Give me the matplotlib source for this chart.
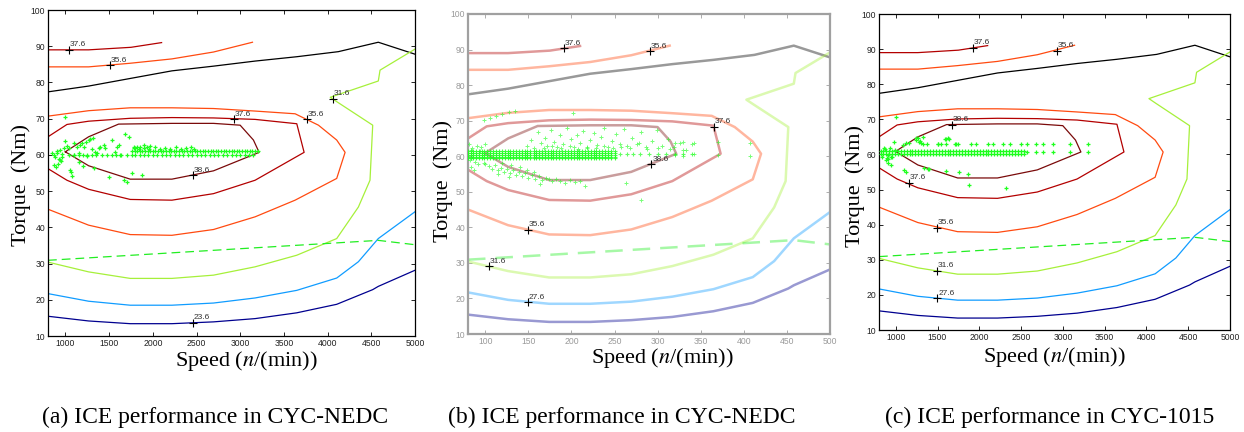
import matplotlib
matplotlib.use("Agg")
import matplotlib.pyplot as plt

# efficiency contour polylines (speed r/min, torque Nm)
top376_x = [800, 1265, 1750, 2100]
top376_y = [89.0, 89.0, 89.7, 91.0]
top356_x = [800, 1265, 1741, 2218, 2694, 3140]
top356_y = [84.3, 84.3, 85.3, 86.5, 88.4, 91.1]
maxtq_x = [800, 1265, 1741, 2218, 2694, 3170, 3647, 4123, 4580, 5000]
maxtq_y = [77.4, 79.0, 81.1, 83.2, 84.5, 85.9, 87.1, 88.5, 91.1, 87.8]
c316_x = [5000, 4600, 4580, 4030, 4104, 4516, 4485, 4352, 4104, 3647, 3170, 2694, 2218, 1741, 1265, 800]
c316_y = [89.2, 83.4, 80.4, 75.9, 74.7, 68.2, 53.0, 45.6, 36.9, 32.3, 29.1, 26.8, 25.9, 25.9, 27.7, 30.4]
c276_x = [800, 1265, 1741, 2218, 2694, 3170, 3647, 4104, 4352, 4580, 5000]
c276_y = [21.7, 19.6, 18.5, 18.5, 19.1, 20.5, 22.6, 26.0, 30.5, 36.9, 44.3]
c236_x = [800, 1265, 1741, 2218, 2694, 3170, 3647, 4104, 4516, 4580, 5000]
c236_y = [15.45, 14.15, 13.4, 13.4, 13.9, 14.8, 16.4, 18.75, 22.8, 23.7, 28.15]
opt_x = [800, 4580, 5000]
opt_y = [30.9, 36.4, 35.2]
loop356_x = [800, 1265, 1741, 2218, 2694, 3170, 3628, 3895, 4104, 4200, 4104, 3628, 3170, 2694, 2218, 1741, 1265, 800]
loop356_y = [70.7, 72.2, 73.0, 73.0, 72.8, 72.1, 71.35, 68.2, 64.1, 60.7, 53.5, 47.5, 42.9, 39.4, 37.8, 38.0, 40.6, 45.0]
loop376_x = [800, 1017, 1265, 1741, 2218, 2694, 3170, 3647, 3731, 3170, 2694, 2218, 1741, 1265, 1017, 800]
loop376_y = [65.0, 68.4, 69.3, 70.1, 70.3, 70.2, 69.8, 68.6, 60.7, 53.0, 49.3, 47.5, 47.7, 50.5, 53.0, 56.2]
loop386_x = [998, 1265, 1608, 2218, 2694, 2999, 3151, 3216, 2694, 2218, 1741, 1265, 998]
loop386_y = [60.85, 65.0, 68.5, 68.7, 68.7, 68.2, 64.1, 60.7, 55.6, 53.3, 53.3, 57.0, 60.85]

# contour labels per panel
lab_a = [(1036, 89.0, '37.6'), (1505, 84.7, '35.6'), (4058, 75.5, '31.6'), (2923, 69.9, '37.6'),
         (3761, 69.9, '35.6'), (2454, 54.4, '38.6'), (2454, 13.6, '23.6')]
lab_b = [(1911, 90.3, '37.6'), (2917, 89.6, '35.6'), (3653, 68.3, '37.6'), (2929, 57.8, '38.6'),
         (1497, 39.3, '35.6'), (1040, 29.0, '31.6'), (1497, 19.0, '27.6')]
lab_c = [(1926, 90.4, '37.6'), (2924, 89.6, '35.6'), (1674, 68.4, '38.6'), (1155, 52.0, '37.6'),
         (1499, 39.1, '35.6'), (1499, 26.9, '31.6'), (1499, 19.0, '27.6')]

# operating points, panel (a)
a_cloud_x = [1000, 865, 884, 903, 922, 941, 960, 979, 870, 890, 910, 935, 955, 998, 1017, 1037, 1055, 1074,
             1093, 1132, 1170, 1189, 1208, 1238, 1265, 1284, 1314, 1322, 1341, 1360, 1379, 1398, 1436, 1455,
             1494, 1532, 1570, 1589, 1608, 1627, 1665, 1684, 1722, 1760, 1779, 1798, 1818, 1856, 1875, 1894,
             1932, 1970, 850, 900, 950, 1040, 1100, 1150, 1250, 1300, 1150, 1200, 1060, 1700,
             1780, 1840, 1900, 1960, 2020, 2080, 2140, 2200, 2260, 2320, 2380, 2440, 2470]
a_cloud_y = [70.5, 59.9, 59.5, 60.4, 59.0, 61.3, 60.2, 61.8, 57.2, 56.7, 57.6, 58.6, 59.5, 63.9, 62.4, 61.8, 55.8, 54.1,
             63.2, 62.2, 62.7, 63.2, 62.2, 63.6, 64.1, 64.5, 64.8, 56.3, 60.9, 60.4, 61.8, 62.2, 62.7, 61.8,
             53.9, 64.1, 60.9, 62.2, 62.7, 59.9, 53.0, 65.9, 65.0, 54.9, 62.2, 61.8, 62.2, 62.2, 54.4, 62.7,
             62.2, 62.4, 60.5, 61.0, 58.2, 60.0, 59.9, 60.5, 59.8, 61.5, 58.0, 57.0, 55.2, 52.5,
             61.8, 61.6, 62.0, 61.7, 62.3, 61.6, 61.9, 61.7, 62.2, 61.6, 61.8, 62.1, 61.6]
a_row_hi_x = [1760, 1790, 1820, 1850, 1880, 1910, 1940, 1970, 2000, 2030, 2060, 2090, 2120, 2150, 2180, 2210,
              2240, 2270, 2300, 2330, 2360, 2390, 2420, 2450, 2480, 2510, 2540, 2570, 2600, 2630, 2660, 2690,
              2720, 2750, 2780, 2810, 2840, 2870, 2900, 2930, 2960, 2990, 3020, 3050, 3080, 3110, 3140, 3170, 3200]
a_row_hi_y = 61.0
a_row_lo_x = [1100, 1150, 1200, 1250, 1300, 1350, 1420, 1470, 1530, 1580, 1640, 1700, 1760, 1800, 1850, 1900,
              1950, 2000, 2050, 2100, 2150, 2200, 2250, 2300, 2350, 2400, 2450, 2500, 2550, 2600, 2650, 2700,
              2750, 2800, 2850, 2900, 2950, 3000, 3050, 3100, 3150]
a_row_lo_y = 60.1

# operating points, panel (b)
b_band_x = [800, 830, 860, 895, 925, 960, 990, 1025, 1060, 1090, 1125, 1160, 1190, 1225, 1260, 1290, 1325,
            1360, 1390, 1425, 1460, 1490, 1525, 1560, 1590, 1625, 1660, 1690, 1725, 1760, 1790, 1825, 1860,
            1890, 1925, 1960, 1990, 2025, 2060, 2090, 2125, 2160, 2190, 2225, 2260, 2290, 2325, 2360, 2390,
            2425, 2460, 2500]
b_band_rows = [59.4, 59.9, 60.4, 60.9, 61.4]
b_tail_x = [2560, 2640, 2720, 2800, 2900, 3000, 3100, 3200, 3300, 3400]
b_tail_y = 60.5
b_up_x = [1480, 1530, 1560, 1610, 1650, 1690, 1720, 1760, 1800, 1830, 1870, 1900, 1950, 1990, 2030, 2060,
          2100, 2140, 2180, 2220, 2260, 2300, 2340, 2380, 2420, 2470, 2520, 2560, 2610, 2650, 2700, 2760,
          2810, 2870, 2930, 2990, 3050, 3120, 3190, 3260, 3330, 3400, 1680, 1780, 1880, 1980, 2080, 2180,
          2280, 2380, 2480, 2580, 2680, 2780, 2880, 3000, 3140, 3300]
b_up_y = [63.0, 64.5, 62.4, 66.8, 63.6, 65.2, 62.8, 67.5, 64.0, 62.5, 66.0, 63.3, 67.8, 64.8, 62.6, 65.9,
          63.8, 67.2, 62.4, 64.6, 66.5, 63.1, 65.4, 67.9, 62.7, 64.2, 66.3, 63.5, 67.6, 62.9, 65.0, 63.4,
          66.8, 62.6, 64.4, 67.3, 63.0, 64.9, 62.5, 63.8, 61.8, 63.4, 62.2, 63.0, 62.4, 62.9, 62.1, 62.7,
          62.3, 62.8, 62.2, 62.6, 62.4, 63.6, 61.9, 62.3, 62.1, 61.7]
b_low_x = [1000, 1040, 1080, 1110, 1150, 1180, 1220, 1250, 1290, 1320, 1360, 1390, 1430, 1460, 1500, 1540,
           1580, 1620, 1660, 1700, 1740, 1780, 1820, 1870, 1920, 1980, 2040, 2100, 2160, 1200, 1300, 1400,
           1480, 1560, 1640, 2630, 2810, 1150, 1270]
b_low_y = [57.8, 57.2, 56.5, 57.4, 56.0, 56.8, 55.6, 56.4, 55.2, 56.0, 54.8, 55.6, 54.5, 55.2, 54.0, 54.8,
           53.7, 54.4, 53.2, 54.0, 53.5, 52.9, 53.6, 53.1, 52.4, 53.3, 52.7, 53.0, 51.6, 58.2, 57.6, 56.9,
           56.2, 55.5, 52.2, 52.6, 47.7, 55.0, 54.2]
b_ext_x = [980, 1050, 1120, 1200, 1280, 1350, 2015, 3200, 3200, 3300, 3300, 3420, 3420, 3700, 3700, 4070,
           4070, 810, 830, 850, 870, 900, 920, 950, 980, 1000, 820, 840, 880, 940]
b_ext_y = [70.2, 70.8, 71.2, 71.8, 72.3, 72.7, 72.2, 63.8, 60.4, 64.0, 60.2, 60.5, 63.8, 64.0, 60.3, 63.6,
           60.0, 63.5, 57.0, 62.2, 56.2, 63.0, 57.8, 62.6, 58.2, 63.4, 59.0, 61.8, 58.5, 61.5]

# operating points, panel (c)
c_band_x = [820, 850, 885, 920, 955, 990, 1025, 1060, 1095, 1130, 1165, 1200, 1235, 1270, 1305, 1340, 1375,
            1410, 1445, 1480, 1515, 1550, 1585, 1620, 1655, 1690, 1725, 1760, 1795, 1830, 1865, 1900, 1935,
            1970, 2005, 2040, 2075, 2110, 2145, 2180, 2215, 2250, 2285, 2320, 2355, 2390, 2425, 2460, 2495, 2530]
c_band_rows = [60.2, 60.9]
c_pair_hi_x = [1330, 1370, 1507, 1606, 1706, 1746, 1906, 1966, 2105, 2165, 2285, 2365, 2505, 2565, 2684,
               2763, 2883, 3083, 3299]
c_pair_hi_y = 62.9
c_pair_lo_x = [2565, 2684, 2763, 2883, 3083, 3299]
c_pair_lo_y = 60.8
c_cloud_x = [1004, 984, 1084, 1123, 1164, 1243, 1263, 1284, 1303, 1503, 1542, 1602, 1643, 884, 944, 904,
             1104, 1123, 1343, 1383, 1403, 1602, 1762, 1862, 1882, 2320, 944, 904, 1247, 1287, 1327, 1586,
             1626, 1726, 840, 870, 900, 930, 960, 990, 860, 910]
c_cloud_y = [70.6, 63.6, 62.7, 63.3, 63.2, 64.1, 64.6, 63.6, 63.2, 62.9, 62.9, 64.3, 64.3, 58.4, 57.0, 57.5,
             55.6, 55.1, 56.1, 55.8, 55.8, 55.3, 55.1, 54.4, 51.3, 50.4, 59.4, 59.8, 64.6, 63.7, 64.9, 64.3,
             64.6, 63.0, 59.3, 61.6, 59.0, 61.8, 59.4, 61.4, 61.9, 58.8]

x_ticks = [1000, 1500, 2000, 2500, 3000, 3500, 4000, 4500, 5000]
x_ticklabels_b = ['100', '150', '200', '250', '300', '350', '400', '450', '500']
y_ticks = [10, 20, 30, 40, 50, 60, 70, 80, 90, 100]

C386 = '#7a0a0a'
C376 = '#b30000'
C356 = '#ff4a10'
C316 = '#a6f03a'
C276 = '#109cff'
C236 = '#00008f'
GREEN = '#1eff1e'

SERIF = 'Liberation Serif'
SANS = 'Liberation Sans'

W, H = 1244, 432
fig = plt.figure(figsize=(W / 100, H / 100), dpi=100)


def px_axes(l, r, t, b):
    return fig.add_axes([l / W, 1 - b / H, (r - l) / W, (b - t) / H])


def draw_map(ax, alpha=1.0, lw=0.9):
    ax.plot(top376_x, top376_y, color=C376, lw=lw, alpha=alpha)
    ax.plot(top356_x, top356_y, color=C356, lw=lw, alpha=alpha)
    ax.plot(maxtq_x, maxtq_y, color='black', lw=lw, alpha=alpha)
    ax.plot(c316_x, c316_y, color=C316, lw=lw, alpha=alpha)
    ax.plot(c276_x, c276_y, color=C276, lw=lw, alpha=alpha)
    ax.plot(c236_x, c236_y, color=C236, lw=lw, alpha=alpha)
    ax.plot(loop356_x, loop356_y, color=C356, lw=lw, alpha=alpha)
    ax.plot(loop376_x, loop376_y, color=C376, lw=lw, alpha=alpha)
    ax.plot(loop386_x, loop386_y, color=C386, lw=lw, alpha=alpha)
    ax.plot(opt_x, opt_y, color='#22ee22', lw=lw, ls=(0, (7, 4)), alpha=alpha)


def style_axes(ax, faded=False):
    ax.set_xlim(800, 5000)
    ax.set_ylim(10, 100)
    ax.set_xticks(x_ticks)
    ax.set_yticks(y_ticks)
    col = '#a0a0a0' if faded else 'black'
    for s in ax.spines.values():
        s.set_color(col)
        s.set_linewidth(1.6 if faded else 0.9)
    ax.tick_params(direction='in', length=3, width=0.6, top=True, right=True, colors=col,
                   labelcolor=('#9a9a9a' if faded else '#222222'), pad=2)
    for t in ax.get_xticklabels() + ax.get_yticklabels():
        t.set_fontfamily(SANS)
        t.set_fontsize(6.2)


def put_labels(ax, labels):
    for x, y, s in labels:
        ax.plot(x, y, marker='+', color='black', ms=6, mew=0.8, zorder=6)
        ax.annotate(s, (x, y), xytext=(0.5, 2.5), textcoords='offset points',
                    fontsize=6, family=SANS, color='#333333', zorder=6)


def pts(ax, xs, ys, ms=3.5, alpha=1.0, color=GREEN, mew=0.9):
    if not isinstance(ys, list):
        ys = [ys] * len(xs)
    ax.plot(xs, ys, ls='none', marker='+', color=color, ms=ms, mew=mew, alpha=alpha, zorder=4)


# (a)
ax_a = px_axes(48, 415, 10, 336)
draw_map(ax_a)
pts(ax_a, a_cloud_x, a_cloud_y)
pts(ax_a, a_row_hi_x, a_row_hi_y)
pts(ax_a, a_row_lo_x, a_row_lo_y)
put_labels(ax_a, lab_a)
style_axes(ax_a)

# (b) faded map, dense cloud
ax_b = px_axes(468, 830, 14, 334)
draw_map(ax_b, alpha=0.4, lw=1.8)
for row in b_band_rows:
    pts(ax_b, b_band_x, row, ms=3, alpha=0.8, mew=0.8)
pts(ax_b, b_tail_x, b_tail_y, ms=3, alpha=0.7, mew=0.8)
pts(ax_b, b_up_x, b_up_y, ms=2.5, alpha=0.6, mew=0.7)
pts(ax_b, b_low_x, b_low_y, ms=2.5, alpha=0.6, mew=0.7)
pts(ax_b, b_ext_x, b_ext_y, ms=2.5, alpha=0.6, mew=0.7)
put_labels(ax_b, lab_b)
style_axes(ax_b, faded=True)
ax_b.set_xticklabels(x_ticklabels_b)

# (c)
ax_c = px_axes(879, 1230, 14, 330)
draw_map(ax_c)
for row in c_band_rows:
    pts(ax_c, c_band_x, row)
pts(ax_c, c_pair_hi_x, c_pair_hi_y)
pts(ax_c, c_pair_lo_x, c_pair_lo_y)
pts(ax_c, c_cloud_x, c_cloud_y)
put_labels(ax_c, lab_c)
style_axes(ax_c)

# axis titles and captions
for cx, cy in [(21, 185), (443, 181), (855, 186)]:
    fig.text(cx / W, 1 - cy / H, 'Torque  (Nm)', rotation=90, ha='center', va='center',
             family=SERIF, fontsize=16)
for cx, base in [(246, 366), (662, 363), (1054, 362)]:
    fig.text(cx / W, 1 - base / H, r'Speed ($\mathit{n}$/(min))', ha='center', va='baseline',
             family=SERIF, fontsize=16, math_fontfamily='stix')
for cx, s in [(215, '(a) ICE performance in CYC-NEDC'),
              (622, '(b) ICE performance in CYC-NEDC'),
              (1050, '(c) ICE performance in CYC-1015')]:
    fig.text(cx / W, 1 - 423 / H, s, ha='center', va='baseline', family=SERIF, fontsize=17)

fig.savefig('out.png', dpi=100)
